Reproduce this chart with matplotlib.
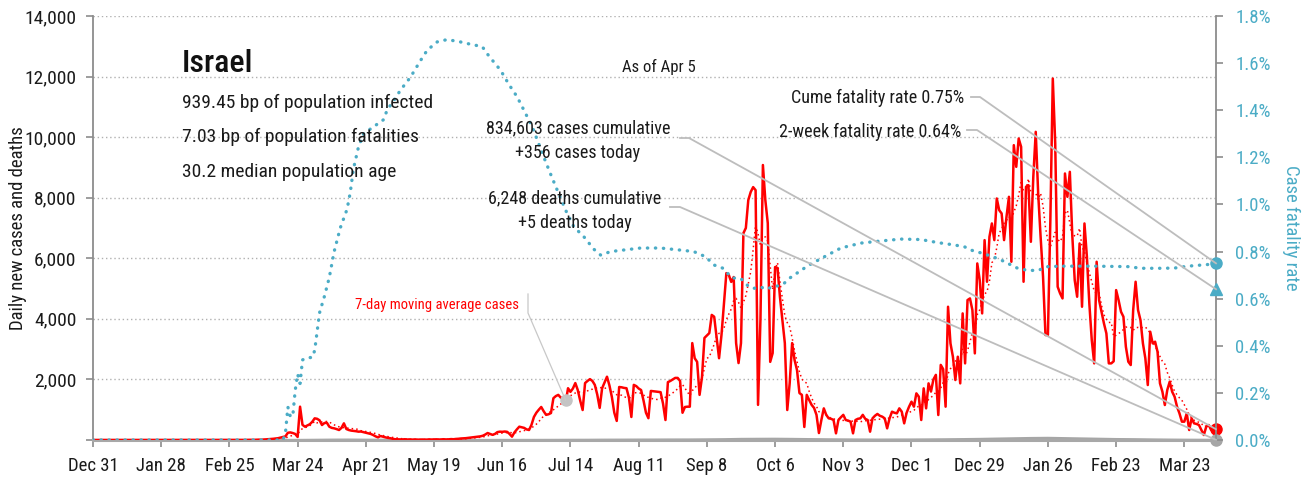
import numpy as np
import pandas as pd
import matplotlib
matplotlib.use("Agg")
import matplotlib.pyplot as plt
import matplotlib.font_manager as fm
from matplotlib.lines import Line2D
from matplotlib.transforms import IdentityTransform

# ---------------------------------------------------------------- data
# day index 0 = Dec 31 2019, last day (461) = Apr 5 2021
tick_days = [0, 28, 56, 84, 112, 140, 168, 196, 224, 252, 280, 308, 336, 364, 392, 420, 448]
tick_labels = ["Dec 31", "Jan 28", "Feb 25", "Mar 24", "Apr 21", "May 19", "Jun 16",
               "Jul 14", "Aug 11", "Sep 8", "Oct 6", "Nov 3", "Dec 1", "Dec 29",
               "Jan 26", "Feb 23", "Mar 23"]

daily_cases = [
    0, 0, 0, 0, 0, 0, 0, 0, 0, 0,
    0, 0, 0, 0, 0, 0, 0, 0, 0, 0,
    0, 0, 0, 0, 0, 0, 0, 0, 0, 0,
    0, 0, 0, 0, 0, 0, 0, 0, 0, 0,
    0, 0, 0, 0, 0, 0, 0, 0, 0, 0,
    0, 0, 1, 0, 0, 0, 0, 2, 0, 2,
    1, 0, 3, 2, 5, 3, 4, 8, 11, 8,
    14, 20, 25, 30, 40, 50, 60, 80, 100, 120,
    240, 250, 230, 200, 100, 1100, 500, 440, 480, 520,
    600, 715, 700, 650, 495, 560, 570, 440, 400, 385,
    360, 330, 400, 550, 363, 330, 310, 300, 290, 275,
    280, 260, 240, 220, 200, 165, 120, 88, 132, 110,
    88, 70, 60, 40, 25, 22, 20, 18, 25, 15,
    20, 12, 18, 15, 10, 16, 14, 12, 20, 15,
    18, 22, 15, 20, 25, 18, 22, 30, 25, 35,
    40, 50, 55, 60, 70, 80, 90, 100, 110, 120,
    140, 180, 230, 200, 170, 200, 260, 275, 270, 280,
    270, 200, 110, 250, 350, 440, 420, 400, 350, 330,
    500, 760, 900, 1000, 1090, 950, 830, 850, 890, 1380,
    1450, 1490, 1400, 1380, 1220, 1710, 1590, 1700, 1880, 1650,
    1300, 990, 1880, 1950, 2010, 1950, 1820, 1500, 1060, 1710,
    1900, 2090, 1800, 1420, 900, 630, 1750, 1740, 1720, 1710,
    1400, 760, 1820, 1780, 1700, 1650, 1300, 900, 720, 1620,
    1610, 1600, 1590, 1580, 1200, 660, 1910, 1950, 2000, 2050,
    2050, 1950, 900, 1090, 1100, 1100, 3200, 2700, 2580, 1490,
    2080, 3370, 3450, 3530, 4130, 4070, 3400, 2700, 3470, 4500,
    5510, 5450, 5220, 5380, 3200, 2540, 3200, 6830, 7000, 7920,
    8190, 8350, 8250, 1160, 4000, 9080, 7920, 7160, 2580, 2870,
    5710, 5680, 4720, 3960, 3200, 990, 1880, 3200, 2640, 2310,
    1550, 1490, 430, 1490, 1320, 1160, 1060, 830, 230, 660,
    1045, 830, 715, 700, 660, 220, 660, 750, 830, 660,
    640, 605, 220, 660, 700, 715, 830, 700, 660, 275,
    715, 800, 860, 800, 770, 715, 385, 715, 935, 900,
    880, 1045, 935, 550, 900, 1100, 1265, 1100, 1540, 1430,
    660, 1705, 1045, 1870, 1600, 2000, 2150, 825, 2480, 2340,
    1100, 4400, 3190, 2750, 1980, 2750, 1870, 4180, 2530, 4620,
    4675, 4290, 2860, 5830, 5280, 4180, 6600, 5225, 6710, 7150,
    6600, 7975, 7590, 7480, 6600, 7370, 8030, 5885, 9735, 9020,
    9955, 9680, 5225, 8360, 8415, 6545, 8690, 10175, 8140, 6710,
    5390, 3465, 3465, 7260, 11935, 9790, 5060, 4840, 4675, 8800,
    8030, 8855, 6765, 5280, 4730, 6490, 4400, 7150, 6050, 4510,
    3300, 2530, 5885, 4620, 4235, 3850, 3520, 2530, 2530, 2600,
    4950, 4620, 4235, 4070, 3080, 2585, 2475, 4290, 5225, 4290,
    3960, 3190, 2695, 1815, 3575, 3190, 3245, 2915, 1870, 1595,
    1155, 1650, 1925, 1595, 1430, 1100, 880, 605, 605, 880,
    330, 715, 550, 530, 495, 330, 165, 440, 495, 330,
    385, 356,
]

# weekly daily-death readings
death_days = [0, 7, 14, 21, 28, 35, 42, 49, 56, 63, 70, 77, 84, 91, 98, 105, 112, 119,
              126, 133, 140, 147, 154, 161, 168, 175, 182, 189, 196, 203, 210, 217, 224,
              231, 238, 245, 252, 259, 266, 273, 280, 287, 294, 301, 308, 315, 322, 329,
              336, 343, 350, 357, 364, 371, 378, 385, 392, 399, 406, 413, 420, 427, 434,
              441, 448, 455, 461]
daily_deaths = [0, 0, 0, 0, 0, 0, 0, 0, 0, 0, 0, 0, 1, 5, 10, 12, 8, 6,
                3, 2, 1, 0, 0, 0, 1, 1, 2, 3, 5, 6, 9, 10, 12,
                13, 15, 16, 20, 25, 35, 38, 40, 35, 28, 22, 18, 15, 12, 14,
                15, 18, 22, 28, 35, 45, 55, 65, 70, 60, 50, 40, 30, 25, 18,
                12, 8, 6, 5]

# cumulative case fatality rate (%)
cfr_days = [0, 78, 79, 80, 81, 82, 83, 84, 85, 86, 88, 90, 91, 92, 93, 95, 97, 99,
            101.5, 104.3, 105.6, 106.9, 109, 111.1, 115.2, 119.3, 120.7, 123.4, 126.2,
            130.3, 134.4, 137.2, 141.3, 145.4, 150.8, 155, 159.8, 161.8, 164.5, 167.3,
            170.7, 174.1, 176.9, 180.3, 182.4, 185.1, 187.8, 190.6, 194, 197.4, 201.5,
            205.6, 208.4, 212.5, 224.8, 233, 241.3, 246.6, 251.5, 254.9, 258.4, 260.4,
            262.5, 265.9, 269.3, 271.4, 274.1, 276.2, 279, 281, 283.7, 285.8, 287.8,
            290.6, 294, 298.8, 307, 315.3, 323.5, 331.7, 339.9, 346.8, 353.6, 357.8,
            360.5, 365.3, 369.4, 372.8, 375.5, 379.6, 383.7, 387.9, 392, 397.4, 411,
            424.8, 430.3, 438.6, 444, 449.5, 457.7, 461]
cfr_pct = [0.0, 0.0, 0.03, 0.14, 0.10, 0.10, 0.21, 0.28, 0.24, 0.34, 0.35, 0.35, 0.38, 0.46,
           0.54, 0.61, 0.69, 0.80, 0.90, 0.98, 1.05, 1.15, 1.245, 1.30, 1.33, 1.36, 1.40,
           1.44, 1.485, 1.54, 1.61, 1.655, 1.69, 1.70, 1.69, 1.68, 1.67, 1.64, 1.605, 1.57,
           1.51, 1.457, 1.40, 1.33, 1.273, 1.20, 1.13, 1.06, 0.976, 0.905, 0.863, 0.81,
           0.785, 0.80, 0.815, 0.815, 0.806, 0.80, 0.778, 0.743, 0.73, 0.709, 0.688, 0.686,
           0.65, 0.644, 0.65, 0.64, 0.65, 0.654, 0.665, 0.686, 0.70, 0.72, 0.743, 0.77,
           0.815, 0.836, 0.845, 0.853, 0.851, 0.838, 0.828, 0.82, 0.806, 0.792, 0.778,
           0.764, 0.75, 0.729, 0.72, 0.72, 0.736, 0.738, 0.738, 0.736, 0.729, 0.729, 0.73,
           0.738, 0.745, 0.75]

cume_cfr = 0.75
two_week_cfr = 0.64
cases_total, cases_today = "834,603", "+356"
deaths_total, deaths_today = "6,248", "+5"
country = "Israel"
info_lines = ["939.45 bp of population infected",
              "7.03 bp of population fatalities",
              "30.2 median population age"]
as_of = "As of Apr 5"

left_ticks = [0, 2000, 4000, 6000, 8000, 10000, 12000, 14000]
left_labels = ["", "2,000", "4,000", "6,000", "8,000", "10,000", "12,000", "14,000"]
right_ticks = [0.0, 0.2, 0.4, 0.6, 0.8, 1.0, 1.2, 1.4, 1.6, 1.8]
right_labels = ["0.0%", "0.2%", "0.4%", "0.6%", "0.8%", "1.0%", "1.2%", "1.4%", "1.6%", "1.8%"]

# ---------------------------------------------------------------- style
available = {f.name for f in fm.fontManager.ttflist}
family = "DejaVu Sans"
for cand in ["Roboto Condensed", "Liberation Sans Narrow", "DejaVu Sans Condensed"]:
    if cand in available:
        family = cand
        break
plt.rcParams["font.family"] = [family, "DejaVu Sans"]
if family == "DejaVu Sans":
    plt.rcParams["font.stretch"] = "condensed"

RED = "#ff0000"
TEAL = "#4bacc6"
GREY = "#8c8c8c"
LINK = "#bdbdbd"
TXT = "#1a1a1a"

W, H = 1307, 480
fig = plt.figure(figsize=(W / 100, H / 100), dpi=100)
ax = fig.add_axes([93 / W, 40 / H, (1216 - 93) / W, (440 - 16) / H])
ax2 = ax.twinx()

days = np.arange(len(daily_cases))
cases = pd.Series(daily_cases, index=days, dtype=float)
cases_ma = cases.rolling(7).mean()

ax.set_xlim(0, days[-1])
ax.set_ylim(0, 14000)
ax2.set_ylim(0, 1.8)

ax.yaxis.grid(True, linestyle=(0, (1, 2)), color="#b0b0b0", lw=1)
ax.set_axisbelow(True)

ax.plot(death_days, daily_deaths, color="#a6a6a6", lw=1.6, zorder=2)
ax.plot(days, cases_ma, color=RED, lw=1.1, linestyle=(0, (1, 2)), zorder=3)
ax.plot(days, cases, color=RED, lw=1.8, zorder=4)
ax2.plot(cfr_days, cfr_pct, color=TEAL, lw=2.4, linestyle=(0, (0.1, 2.3)),
         dash_capstyle="round", zorder=3)

# end-of-series markers
ax.plot([days[-1]], [daily_cases[-1]], "o", color=RED, ms=8, clip_on=False, zorder=6)
ax.plot([death_days[-1]], [daily_deaths[-1]], "o", color="#a6a6a6", ms=8, clip_on=False, zorder=6)
ax2.plot([cfr_days[-1]], [cume_cfr], "o", color=TEAL, ms=8, clip_on=False, zorder=6)
ax2.plot([cfr_days[-1]], [two_week_cfr], "^", color=TEAL, ms=9, clip_on=False, zorder=6)
ma_day = 194
ax.plot([ma_day], [cases_ma[ma_day]], "o", color="#c4c4c4", ms=8, zorder=6)

# axes cosmetics
for a in (ax, ax2):
    a.spines["top"].set_visible(False)
ax.spines["left"].set_color(GREY)
ax.spines["left"].set_linewidth(1.3)
ax2.spines["right"].set_color(GREY)
ax2.spines["right"].set_linewidth(1.3)
ax.spines["bottom"].set_color("#a8a8a8")
ax.spines["bottom"].set_linewidth(2.2)
ax2.spines["bottom"].set_visible(False)
ax2.spines["left"].set_visible(False)
ax.spines["right"].set_visible(False)

fs_tick = 13.5
ax.set_xticks(tick_days)
ax.set_xticklabels(tick_labels, fontsize=fs_tick, color=TXT)
ax.tick_params(axis="x", length=5, width=1.2, color=GREY, pad=7)
ax.set_yticks(left_ticks)
ax.set_yticklabels(left_labels, fontsize=14, color=TXT)
ax.tick_params(axis="y", length=5, width=1.2, color=GREY, pad=7)
ax2.set_yticks(right_ticks)
ax2.set_yticklabels(right_labels, fontsize=fs_tick, color=TEAL)
ax2.tick_params(axis="y", length=5, width=1.2, color=GREY, pad=9)

fig.text(18 / W, 1 - 228 / H, "Daily new cases and deaths", rotation=90,
         ha="center", va="center", fontsize=13.5, color=TXT)
fig.text(1291 / W, 1 - 228 / H, "Case fatality rate", rotation=270,
         ha="center", va="center", fontsize=13.5, color=TEAL)

# ---------------------------------------------------------------- text block
def ftxt(x, y, s, **kw):
    return fig.text(x / W, 1 - y / H, s, **kw)

ftxt(182, 72, country, fontsize=23, fontweight="medium", color="#111111", va="baseline")
for i, line in enumerate(info_lines):
    ftxt(182, 108 + i * 34.5, line, fontsize=14, color=TXT, va="baseline")
ftxt(659, 72, as_of, fontsize=12, color=TXT, ha="center", va="baseline")

ftxt(578, 133, f"{cases_total} cases cumulative", fontsize=13, color=TXT,
     ha="center", va="baseline")
ftxt(578, 158, f"{cases_today} cases today", fontsize=13, color=TXT,
     ha="center", va="baseline")
ftxt(575, 203, f"{deaths_total} deaths cumulative", fontsize=13, color=TXT,
     ha="center", va="baseline")
ftxt(575, 228, f"{deaths_today} deaths today", fontsize=13, color=TXT,
     ha="center", va="baseline")
ftxt(964, 103, f"Cume fatality rate {cume_cfr:.2f}%", fontsize=13, color=TXT,
     ha="right", va="baseline")
ftxt(961, 137, f"2-week fatality rate {two_week_cfr:.2f}%", fontsize=13, color=TXT,
     ha="right", va="baseline")
ftxt(355, 309, "7-day moving average cases", fontsize=10.5, color=RED, va="baseline")

# ---------------------------------------------------------------- leader lines
def leader(points_px, target, lw=1.3, color=LINK):
    xs = [p[0] for p in points_px]
    ys = [H - p[1] for p in points_px]
    xs.append(target[0])
    ys.append(target[1])
    fig.add_artist(Line2D(xs, ys, transform=IdentityTransform(), color=color,
                          lw=lw, zorder=1))

leader([(680, 138), (689, 138)], ax.transData.transform((days[-1], daily_cases[-1])))
leader([(670, 207), (680, 207)], ax.transData.transform((death_days[-1], daily_deaths[-1])))
leader([(971, 97), (980, 97)], ax2.transData.transform((cfr_days[-1], cume_cfr)))
leader([(967, 130), (977, 130)], ax2.transData.transform((cfr_days[-1], two_week_cfr)))
leader([(528, 294), (528, 313)], ax.transData.transform((ma_day, cases_ma[ma_day])),
       lw=0.9, color="#c8c8c8")

fig.savefig("out.png", dpi=100)
